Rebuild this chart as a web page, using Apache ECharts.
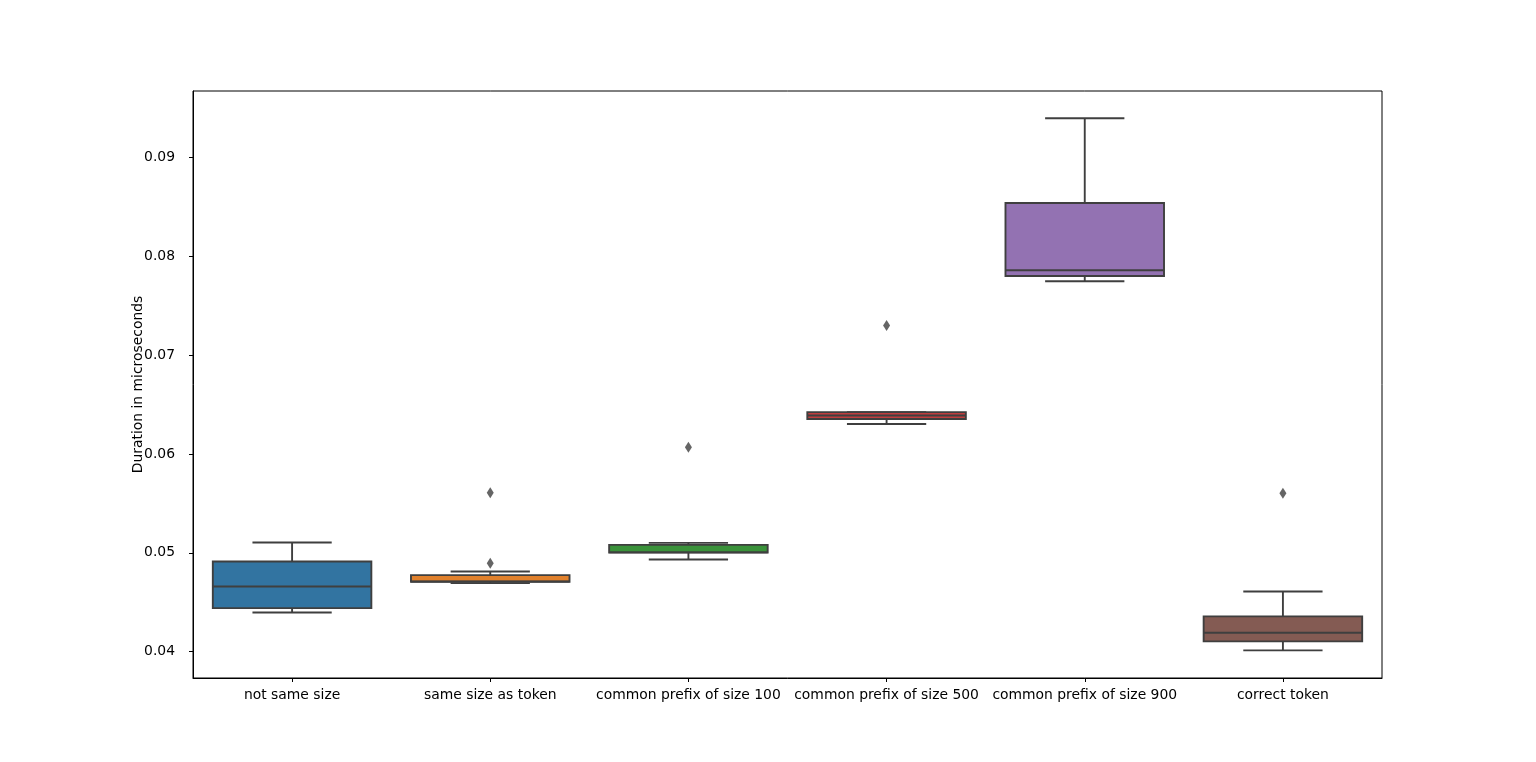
<!DOCTYPE html>
<html>
<head>
<meta charset="utf-8">
<script src="https://cdn.jsdelivr.net/npm/echarts@6/dist/echarts.min.js"></script>
<style>
  html, body { margin: 0; padding: 0; background: #fff; }
  #main { width: 1536px; height: 762px; }
</style>
</head>
<body>
<div id="main"></div>
<script>
// categories along the x axis
var categories = [
    'not same size',
    'same size as token',
    'common prefix of size 100',
    'common prefix of size 500',
    'common prefix of size 900',
    'correct token'
];
// box stats per category: [whisker low, q1, median, q3, whisker high]
var boxStats = [
    [0.04397, 0.04441, 0.04660, 0.04912, 0.05104],
    [0.04694, 0.04707, 0.04710, 0.04775, 0.04811],
    [0.04932, 0.05003, 0.05005, 0.05081, 0.05101],
    [0.06303, 0.06354, 0.06390, 0.06424, 0.06424],
    [0.07747, 0.07801, 0.07859, 0.08539, 0.09397],
    [0.04013, 0.04104, 0.04192, 0.04357, 0.04609]
];
// outliers: [category index, value]
var outliers = [
    [1, 0.05609],
    [1, 0.04896],
    [2, 0.06068],
    [3, 0.07300],
    [5, 0.05603]
];
var palette = ['#3274a1', '#e1812c', '#3a923a', '#c03d3e', '#9372b2', '#845b53'];
var edge = '#3f3f3f';

var boxData = boxStats.map(function (s, i) {
    return [i].concat(s);
});

function renderBox(params, api) {
    var idx = api.value(0);
    var lo = api.coord([idx, api.value(1)]);
    var q1 = api.coord([idx, api.value(2)]);
    var med = api.coord([idx, api.value(3)]);
    var q3 = api.coord([idx, api.value(4)]);
    var hi = api.coord([idx, api.value(5)]);
    var band = api.size([1, 0])[0];
    var w = band * 0.8;
    var cap = w / 2;
    var x = lo[0];
    var lineStyle = { stroke: edge, lineWidth: 1.9 };
    return {
        type: 'group',
        children: [
            { type: 'line', shape: { x1: x, y1: q3[1], x2: x, y2: hi[1] }, style: lineStyle },
            { type: 'line', shape: { x1: x, y1: q1[1], x2: x, y2: lo[1] }, style: lineStyle },
            { type: 'line', shape: { x1: x - cap / 2, y1: hi[1], x2: x + cap / 2, y2: hi[1] }, style: lineStyle },
            { type: 'line', shape: { x1: x - cap / 2, y1: lo[1], x2: x + cap / 2, y2: lo[1] }, style: lineStyle },
            {
                type: 'rect',
                shape: { x: x - w / 2, y: q3[1], width: w, height: q1[1] - q3[1] },
                style: { fill: palette[idx], stroke: edge, lineWidth: 1.9 }
            },
            { type: 'line', shape: { x1: x - w / 2, y1: med[1], x2: x + w / 2, y2: med[1] }, style: lineStyle }
        ]
    };
}

var myChart = echarts.init(document.getElementById('main'));
var option = {
    animation: false,
    backgroundColor: '#fff',
    textStyle: { fontFamily: 'DejaVu Sans' },
    grid: {
        left: 193, right: 154, top: 91, bottom: 84,
        show: true, borderColor: '#000', borderWidth: 1, backgroundColor: '#fff'
    },
    xAxis: {
        type: 'category',
        data: categories,
        boundaryGap: true,
        axisLine: { show: true, lineStyle: { color: '#000', width: 1 } },
        axisTick: { show: true, alignWithLabel: true, length: 4, lineStyle: { color: '#000' } },
        axisLabel: { color: '#000', fontSize: 13.9, margin: 10, interval: 0 },
        splitLine: { show: false }
    },
    yAxis: {
        type: 'value',
        min: 0.03734,
        max: 0.09672,
        splitNumber: 6,
        name: 'Duration in microseconds',
        nameLocation: 'middle',
        nameGap: 48,
        nameMoveOverlap: false,
        nameTextStyle: { color: '#000', fontSize: 13.9 },
        axisLine: { show: true, lineStyle: { color: '#000', width: 1 } },
        axisTick: { show: true, length: 4, lineStyle: { color: '#000' } },
        axisLabel: {
            color: '#000', fontSize: 13.9, margin: 18,
            showMinLabel: false, showMaxLabel: false,
            formatter: function (v) { return v.toFixed(2); }
        },
        splitLine: { show: false }
    },
    series: [
        {
            type: 'custom',
            renderItem: renderBox,
            data: boxData,
            encode: { x: 0, y: [1, 2, 3, 4, 5] },
            z: 2
        },
        {
            type: 'scatter',
            data: outliers,
            symbol: 'diamond',
            symbolSize: [7, 11],
            itemStyle: { color: edge },
            z: 3
        }
    ]
};
myChart.setOption(option);
</script>
</body>
</html>
